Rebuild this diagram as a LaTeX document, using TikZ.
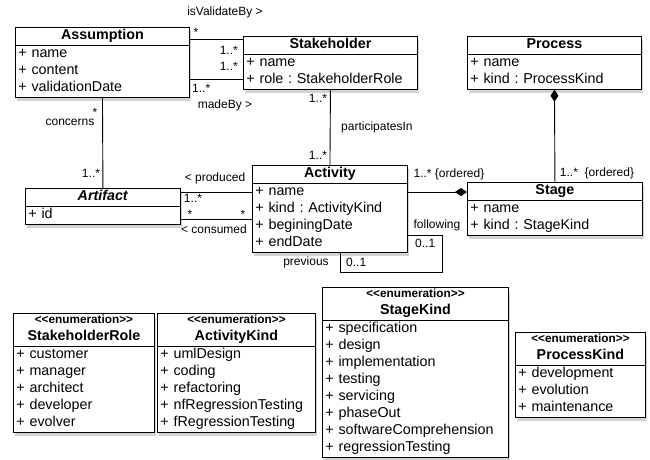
\documentclass[tikz,border=0pt]{standalone}
\usepackage{fontspec}
\setmainfont{Liberation Sans}
\usepackage{tikz}
\usetikzlibrary{arrows.meta, positioning, shapes.multipart, shadows}
\frenchspacing

\newcommand{\umltitle}[1]{\hfill\textbf{#1}\strut\hfill\null}
\newcommand{\umlenum}[1]{\hfill{\fontsize{11.8}{13}\selectfont\bfseries <{}<enumeration>{}>}\rule[-3pt]{0pt}{13pt}\hfill\null\\\umltitle{#1}}

\begin{document}
\begin{tikzpicture}[
    x=1pt, y=-1pt,
    every node/.style={font=\fontsize{14.3}{17}\selectfont},
    umlclass/.style={rectangle split, rectangle split parts=2, draw, line width=0.9pt, fill=white,
        inner xsep=3pt, inner ysep=0pt, text width=#1, align=left, anchor=north west,
        drop shadow={shadow xshift=1.5pt, shadow yshift=-3.5pt, opacity=0.35}},
    lbl/.style={font=\fontsize{12}{14}\selectfont, inner sep=1pt},
    assoc/.style={line width=0.9pt},
    comp/.style={{Diamond[length=12pt,width=8pt]}-, line width=0.9pt}
]
\useasboundingbox (0,0) rectangle (650,459);

% --- classes ---
\node[umlclass=168pt] (asm) at (15,27) {\umltitle{Assumption}\nodepart{two}\strut+ name\\+ content\\+ validationDate\strut};
\node[umlclass=168pt] (stk) at (243,36) {\umltitle{Stakeholder}\nodepart{two}\strut+ name\\+ role : StakeholderRole\strut};
\node[umlclass=168pt] (proc) at (467,36) {\umltitle{Process}\nodepart{two}\strut+ name\\+ kind : ProcessKind\strut};
\node[umlclass=149pt] (art) at (25,188) {\umltitle{\itshape Artifact}\nodepart{two}\strut+ id\strut};
\node[umlclass=149pt] (act) at (252,165) {\umltitle{Activity}\nodepart{two}\strut+ name\\+ kind : ActivityKind\\+ beginingDate\\+ endDate\strut};
\node[umlclass=169pt] (stg) at (467,182) {\umltitle{Stage}\nodepart{two}\strut+ name\\+ kind : StageKind\strut};

% --- enumerations ---
\node[umlclass=135pt] (roleK) at (13,313) {\umlenum{StakeholderRole}\nodepart{two}\strut+ customer\\+ manager\\+ architect\\+ developer\\+ evolver\strut};
\node[umlclass=152pt] (actK) at (157,313) {\umlenum{ActivityKind}\nodepart{two}\strut+ umlDesign\\+ coding\\+ refactoring\\+ nfRegressionTesting\\+ fRegressionTesting\strut};
\node[umlclass=180pt] (stgK) at (322,287) {\umlenum{StageKind}\nodepart{two}\strut+ specification\\+ design\\+ implementation\\+ testing\\+ servicing\\+ phaseOut\\+ softwareComprehension\\+ regressionTesting\strut};
\node[umlclass=124pt] (procK) at (515,332) {\umlenum{ProcessKind}\nodepart{two}\strut+ development\\+ evolution\\+ maintenance\strut};

% --- associations ---
\coordinate (valA) at ([yshift=-12pt]asm.north east);
\coordinate (madeA) at ([yshift=-52pt]asm.north east);
\coordinate (prodA) at ([yshift=-4pt]art.north east);
\coordinate (consA) at ([yshift=-31pt]art.north east);
\coordinate (stgIn) at ([yshift=-10pt]stg.north west);
\draw[assoc] (valA) -- (valA -| stk.west);
\draw[assoc] (madeA) -- (madeA -| stk.west);
\draw[assoc] (stk.south) -- (act.north);
\draw[assoc] (asm.south) -- (art.north);
\draw[assoc] (prodA) -- (prodA -| act.west);
\draw[assoc] (consA) -- (consA -| act.west);
\draw[comp] (stgIn) -- (stgIn -| act.east);
\draw[comp] (proc.south) -- (stg.north);
\draw[assoc] ([yshift=17pt]act.south east) -- ++(35,0) |- ([xshift=88pt,yshift=-20pt]act.south west) -- ([xshift=88pt]act.south west);

% --- labels ---
\node[lbl] (lValid) at (225,12) {isValidateBy >};
\node[lbl] (mValA) at (196,32) {*};
\node[lbl, anchor=east] (mValS) at (239,50) {1..*};
\node[lbl, anchor=east] (mMadeS) at (239,66) {1..*};
\node[lbl, anchor=west] (mMadeA) at (191,88) {1..*};
\node[lbl] (lMade) at (225,105) {madeBy >};
\node[lbl] (mConA) at (95,112) {*};
\node[lbl] (lCon) at (70,122) {concerns};
\node[lbl] (mConR) at (91,173) {1..*};
\node[lbl] (mPartS) at (318,98) {1..*};
\node[lbl, anchor=west] (lPart) at (340,127) {participatesIn};
\node[lbl] (mPartA) at (318,155) {1..*};
\node[lbl] (lProd) at (215,178) {< produced};
\node[lbl] (mProdR) at (193,198) {1..*};
\node[lbl] (mConsR) at (190,214) {*};
\node[lbl] (mConsA) at (243,214) {*};
\node[lbl] (lCons) at (214,229) {< consumed};
\node[lbl] (mActS) at (449,174) {1..* \{ordered\}};
\node[lbl] (mStgP) at (597,173) {1..*\ \ \{ordered\}};
\node[lbl] (lFoll) at (437,225) {following};
\node[lbl, anchor=west] (mFoll) at (414,243) {0..1};
\node[lbl, anchor=west] (mPrev) at (345,262) {0..1};
\node[lbl] (lPrev) at (306,262) {previous};
\end{tikzpicture}
\end{document}
